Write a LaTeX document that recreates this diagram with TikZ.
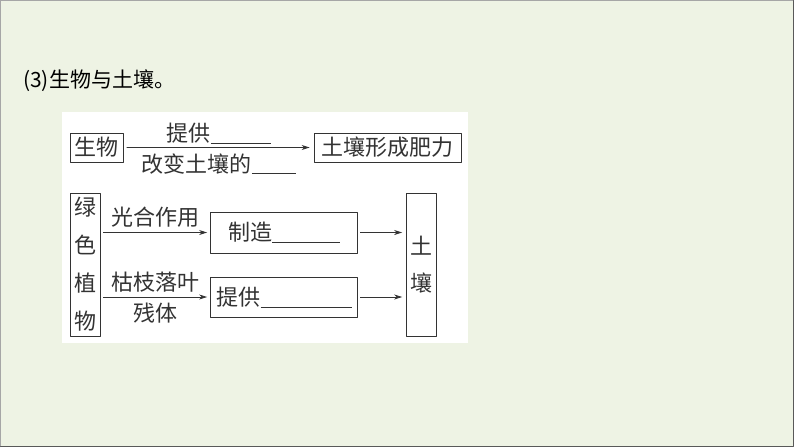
\documentclass[tikz,border=0pt]{standalone}
\usepackage{fontspec}
\setmainfont{Noto Sans CJK SC}
\usetikzlibrary{arrows.meta}
\definecolor{bgcol}{HTML}{EEF3E4}
\definecolor{inkcol}{HTML}{333333}
\tikzset{
  box/.style={draw=inkcol,line width=0.8pt,inner sep=0pt,font=\fontsize{22}{27}\selectfont,text=inkcol},
  lab/.style={font=\fontsize{22}{27}\selectfont,text=inkcol,inner sep=0.5pt},
  arr/.style={draw=inkcol,line width=0.8pt,-{Stealth[length=8pt,width=5pt]}}
}
\newcommand{\blank}[1]{\rule[-2pt]{#1pt}{0.7pt}}
\begin{document}
\begin{tikzpicture}[x=1pt,y=-1pt,line cap=round,line join=round]
  \useasboundingbox (0,0) rectangle (794,447);
  \fill[bgcol] (0,0) rectangle (794,447);
  \draw[color=black!35,line width=1pt] (0.5,446.5)--(0.5,0.5)--(793.5,0.5);
  \draw[color=black!65,line width=1pt] (0.5,446.5)--(793.5,446.5)--(793.5,0.5);
  \fill[white] (62,112) rectangle (468,343);
  \node[anchor=west,font=\fontsize{21}{24}\selectfont,inner sep=0pt] (title) at (23,81) {(3)生物与土壤。};
  % first row
  \node[box,minimum width=53.5pt,minimum height=29pt] (bio) at (96.75,147.5) {生物};
  \node[box,minimum width=147pt,minimum height=29pt] (fert) at (387.5,147.5) {土壤形成肥力};
  \draw[arr,shorten <=3pt,shorten >=4pt] (bio) -- (fert)
    node[lab,midway,above=3pt] (supply) {提供\blank{60}}
    node[lab,midway,below=5pt] (change) {改变土壤的\blank{44}};
  % second part
  \node[box,minimum width=30pt,minimum height=143pt,align=center,
        font=\fontsize{22}{38}\selectfont] (plant) at (85,264.5) {绿\\色\\植\\物};
  \node[box,minimum width=147pt,minimum height=41pt] (make) at (284,232.5) {制造\blank{68}};
  \node[box,minimum width=147pt,minimum height=40pt] (give) at (284,297) {提供\blank{91}};
  \node[box,minimum width=29.5pt,minimum height=143pt,align=center,
        font=\fontsize{22}{37}\selectfont] (soil) at (421.3,264.5) {土\\壤};
  \draw[arr,shorten <=3pt,shorten >=3pt] (plant.east |- make.west) -- (make.west)
    node[lab,midway,above=4pt] (photo) {光合作用};
  \draw[arr,shorten <=3pt,shorten >=3pt] (plant.east |- give.west) -- (give.west)
    node[lab,midway,above=4pt] (litter) {枯枝落叶}
    node[lab,midway,below=5pt] (rest) {残体};
  \draw[arr,shorten <=2.5pt,shorten >=4pt] (make.east) -- (soil.west |- make.east);
  \draw[arr,shorten <=2.5pt,shorten >=4pt] (give.east) -- (soil.west |- give.east);
\end{tikzpicture}
\end{document}
